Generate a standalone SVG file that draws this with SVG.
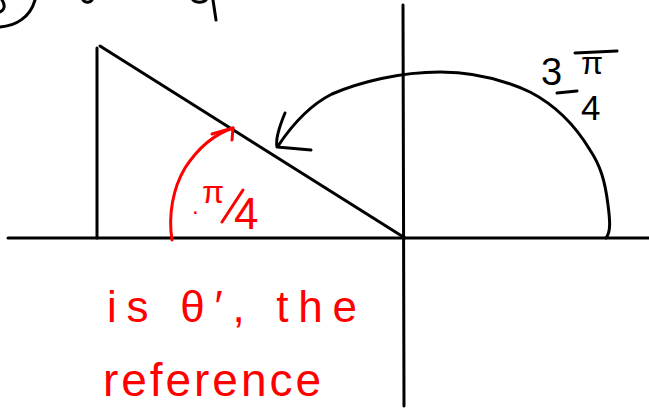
<svg xmlns="http://www.w3.org/2000/svg" width="649" height="408" viewBox="0 0 649 408">
<style>
.ink{fill:none;stroke:#000;stroke-width:3;stroke-linecap:round;stroke-linejoin:round}
.red{fill:none;stroke:#f00;stroke-width:3;stroke-linecap:round;stroke-linejoin:round}
.bt{fill:#000;font-family:"Liberation Sans",Arial,sans-serif}
.rt{fill:#f00;font-family:"Liberation Sans",Arial,sans-serif}
</style>
<rect width="649" height="408" fill="#fff"/>
<g id="cropped-top">
<path class="ink" d="M0,27 C15,26 30,18 35,0"/>
<path class="ink" d="M2,0 C6,6 4,10 0,12"/>
<path class="ink" d="M83,0 C85,3 90,3 92,0"/>
<path class="ink" d="M193,0 C196,3 203,3 206,0 M213,0 L216,20"/>
</g>
<g id="axes">
<line class="ink" x1="8" y1="238" x2="649" y2="238"/>
<line class="ink" x1="403" y1="5" x2="404" y2="406"/>
</g>
<g id="triangle">
<line class="ink" x1="97" y1="48" x2="97" y2="238"/>
<line class="ink" x1="100" y1="46" x2="405" y2="238"/>
</g>
<g id="connectors">
<path class="ink" d="M606,238 C611,232 610,220 608,205 C605,180 600,165 590,150 C575,125 555,105 530,92 C500,78 470,72 440,72 C400,72 360,82 332,94 C310,105 292,125 278,146"/>
<path class="ink" d="M285,113 C280,125 275,138 277,147 L311,150"/>
<path class="red" d="M172,240 C168,215 173,188 185,168 C198,148 215,134 233,128"/>
<path class="red" d="M212,134 L233,128 L232,140"/>
</g>
<g id="label-3pi4">
<text class="bt" x="541" y="85" font-size="38">3</text>
<text class="bt" x="581" y="74" font-size="32">π</text>
<line class="ink" x1="557" y1="93" x2="577" y2="91"/>
<line class="ink" x1="575" y1="53" x2="617" y2="51"/>
<text class="bt" x="581" y="120" font-size="35">4</text>
</g>
<g id="label-pi4">
<text class="rt" x="192" y="214" font-size="24">.</text>
<text class="rt" x="202" y="203" font-size="32">π</text>
<line class="red" x1="222" y1="222" x2="243" y2="190"/>
<text class="rt" x="234" y="229" font-size="44">4</text>
</g>
<g id="red-note">
<text class="rt" x="107" y="322" font-size="44" textLength="250" lengthAdjust="spacing">is θ′, the</text>
<text class="rt" x="103" y="396" font-size="46" textLength="218" lengthAdjust="spacing">reference</text>
</g>
</svg>
